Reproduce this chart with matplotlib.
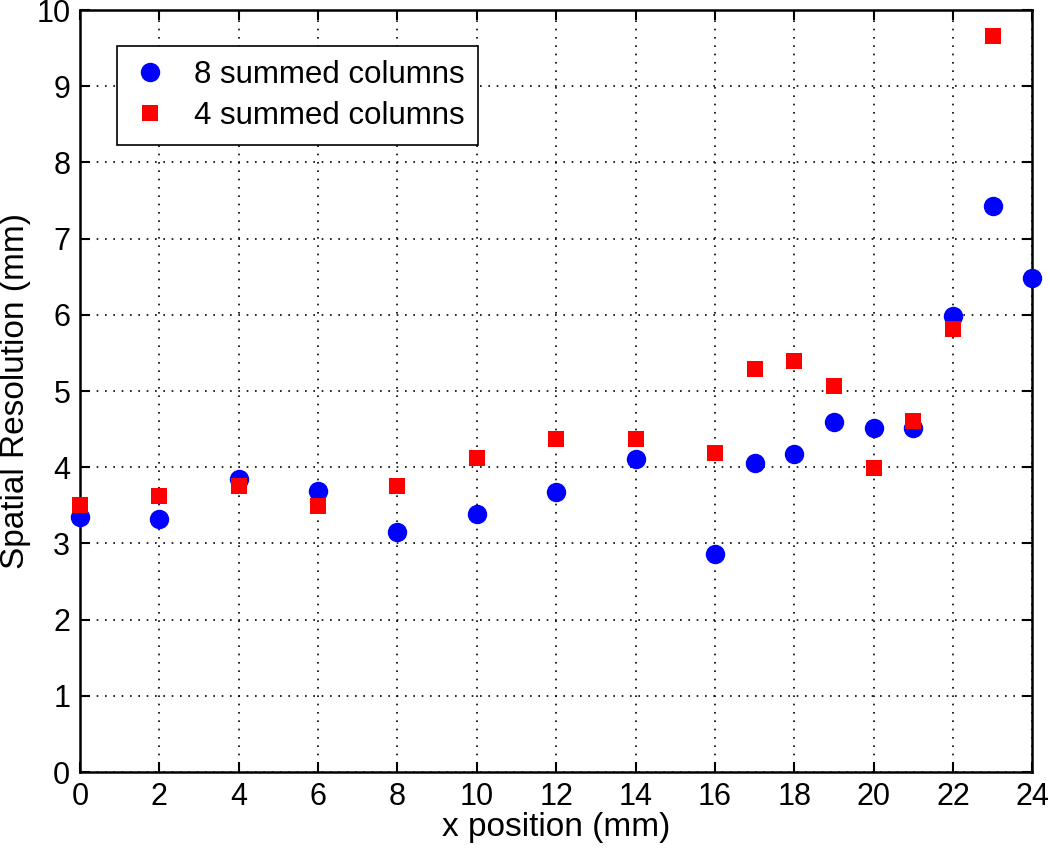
import matplotlib.pyplot as plt

plt.rcParams['font.family'] = ['Liberation Sans', 'DejaVu Sans']

# x positions (mm)
x_pos = [0, 2, 4, 6, 8, 10, 12, 14, 16, 17, 18, 19, 20, 21, 22, 23, 24]

# spatial resolution (mm)
res_8col = [3.35, 3.32, 3.84, 3.69, 3.15, 3.39, 3.67, 4.11, 2.86, 4.05,
            4.17, 4.59, 4.51, 4.52, 5.99, 7.43, 6.48]
x_pos_4 = [0, 2, 4, 6, 8, 10, 12, 14, 16, 17, 18, 19, 20, 21, 22, 23]
res_4col = [3.50, 3.62, 3.75, 3.49, 3.75, 4.12, 4.37, 4.37, 4.19, 5.29,
            5.40, 5.07, 3.99, 4.61, 5.81, 9.66]

x_ticks = list(range(0, 25, 2))
y_ticks = list(range(0, 11))

fig = plt.figure(figsize=(10.5, 8.48), dpi=100)
ax = fig.add_axes([0.0762, 0.0896, 0.907, 0.8986])

ax.plot(x_pos, res_8col, 'o', color=(0, 0, 1), markersize=14,
        markeredgewidth=0, label='8 summed columns', clip_on=False, zorder=3)
ax.plot(x_pos_4, res_4col, 's', color=(1, 0, 0), markersize=12,
        markeredgewidth=0, label='4 summed columns', clip_on=False, zorder=4)

ax.set_xlim(0, 24)
ax.set_ylim(0, 10)
ax.set_xticks(x_ticks)
ax.set_yticks(y_ticks)
ax.grid(True, color='black', linestyle=(0, (1, 4)), linewidth=1.2)

ax.tick_params(direction='in', length=7, width=1.5, top=True, right=True,
               labelsize=22, pad=7)
for sp in ax.spines.values():
    sp.set_linewidth(1.8)

ax.set_xlabel('x position (mm)', fontsize=24, labelpad=0)
ax.set_ylabel('Spatial Resolution (mm)', fontsize=24, labelpad=4)

# legend in the upper left corner
leg = ax.legend(loc='upper left', bbox_to_anchor=(0.039, 0.953),
                borderaxespad=0, fontsize=22.5, fancybox=False,
                edgecolor='black', framealpha=1, handlelength=1.2,
                handletextpad=0.8, borderpad=0.45, labelspacing=0.35)
leg.get_frame().set_linewidth(1.2)

fig.savefig('out.png', dpi=100)
